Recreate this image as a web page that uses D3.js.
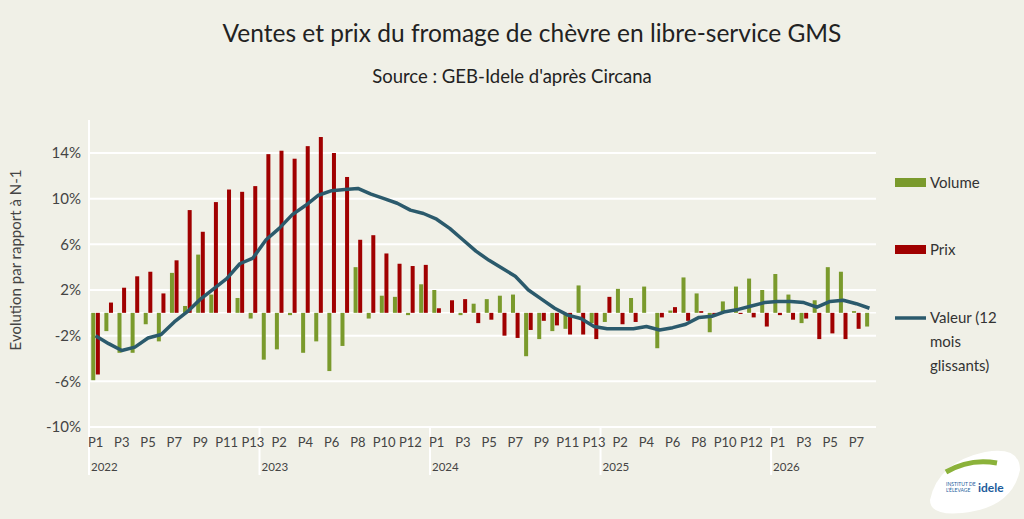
<!DOCTYPE html>
<html><head><meta charset="utf-8">
<script src="https://cdn.jsdelivr.net/npm/d3@7"></script>
<style>body{margin:0;background:#fff;font-family:Lato,"Open Sans",sans-serif}</style>
</head><body><svg id="c" width="1024" height="519"></svg>
<script>
// années et nombre de périodes
const years = ["2022", "2023", "2024", "2025", "2026"];
const periodsPerYear = [13, 13, 13, 13, 8];

// évolution des volumes (%)
const volume = [
  -5.9, -1.6, -3.5, -3.5, -1.0, -2.5, 3.5, 0.6, 5.1, 1.6, 0, 1.3, -0.5,
  -4.1, -3.2, -0.2, -3.5, -2.5, -5.1, -2.9, 4.0, -0.5, 1.5, 1.4, -0.2, 2.5,
  2.0, 0, -0.2, 0.8, 1.2, 1.5, 1.6, -3.8, -2.3, -1.6, -1.4, 2.4, -0.9,
  -0.8, 2.1, 1.3, 2.3, -3.1, 0.2, 3.1, 1.7, -1.7, 1.0, 2.3, 3.0, 2.0,
  3.4, 1.6, -0.9, 1.1, 4.0, 3.6, 0.15, -1.2
];
// évolution des prix (%)
const prix = [
  -5.4, 0.9, 2.2, 3.2, 3.6, 1.7, 4.6, 9.0, 7.1, 9.7, 10.8, 10.6, 11.1,
  13.9, 14.2, 13.5, 14.6, 15.4, 14.0, 11.9, 6.4, 6.8, 5.2, 4.3, 4.1, 4.2,
  0.4, 1.1, 1.2, -0.9, -0.6, -2.0, -2.2, -1.5, -0.7, -1.1, -1.9, -1.9, -2.3,
  1.4, -1.0, -0.8, 0, -0.4, 0.5, -0.7, 0.15, -0.2, 0, -0.1, -0.4, -1.2,
  -0.2, -0.6, -0.5, -2.3, -1.8, -2.3, -1.4, 0
];
// valeur en cumul 12 mois glissants (%)
const valeur = [
  -2.0, -2.7, -3.3, -3.0, -2.2, -1.9, -0.8, 0.1, 1.2, 2.1, 3.0, 4.3, 4.8,
  6.4, 7.4, 8.6, 9.4, 10.3, 10.7, 10.8, 10.9, 10.4, 10.0, 9.6, 9.0, 8.7,
  8.2, 7.4, 6.4, 5.4, 4.6, 3.9, 3.2, 2.0, 1.2, 0.4, -0.2, -0.5, -1.2,
  -1.4, -1.4, -1.4, -1.2, -1.5, -1.3, -1.0, -0.4, -0.3, 0.1, 0.3, 0.6, 0.9,
  1.0, 1.0, 0.9, 0.5, 1.0, 1.1, 0.8, 0.4
];
const yTicks = [-10, -6, -2, 2, 6, 10, 14];

// construction des périodes
const periods = [];
years.forEach((y, yi) => {
  for (let p = 1; p <= periodsPerYear[yi]; p++) periods.push({year: y, p: p});
});
periods.forEach((d, i) => { d.key = i; d.vol = volume[i]; d.prix = prix[i]; d.val = valeur[i]; });

const svg = d3.select("#c");
const L = 89, R = 876, T = 120, B = 428;

svg.append("rect").attr("x", 0).attr("y", 0).attr("width", 1024).attr("height", 519).attr("fill", "#f0f0e7");

svg.append("text").attr("x", 532).attr("y", 42).attr("text-anchor", "middle")
  .attr("font-size", 24.5).attr("fill", "#222").text("Ventes et prix du fromage de chèvre en libre-service GMS");
svg.append("text").attr("x", 512).attr("y", 83).attr("text-anchor", "middle")
  .attr("font-size", 18.5).attr("fill", "#222").text("Source : GEB-Idele d'après Circana");

const x = d3.scaleBand().domain(periods.map(d => d.key)).range([L, R]);
const y = d3.scaleLinear().domain([-10, 14]).range([427, 153]);

// grille
svg.append("g").selectAll("line").data(yTicks).join("line")
  .attr("x1", L).attr("x2", R).attr("y1", d => y(d)).attr("y2", d => y(d))
  .attr("stroke", "#fff").attr("stroke-width", 2);
svg.append("line").attr("x1", L).attr("x2", R).attr("y1", y(0)).attr("y2", y(0)).attr("stroke", "#fff").attr("stroke-width", 1.5);
svg.append("line").attr("x1", L).attr("x2", L).attr("y1", T).attr("y2", 475).attr("stroke", "#fff").attr("stroke-width", 2);

// axe y
const ya = svg.append("g").attr("transform", `translate(${L},0)`)
  .call(d3.axisLeft(y).tickValues(yTicks).tickFormat(d => d + "%").tickSize(0).tickPadding(8));
ya.select(".domain").remove();
ya.selectAll("text").attr("font-size", 15).attr("fill", "#444").attr("font-family", "Lato");

svg.append("text").attr("transform", "translate(21,260) rotate(-90)").attr("text-anchor", "middle")
  .attr("font-size", 15).attr("fill", "#444").text("Evolution par rapport à N-1");

// séparateurs d'années et libellés
let start = 0;
years.forEach((yr, yi) => {
  const x0 = x(start);
  if (yi > 0) svg.append("line").attr("x1", x0).attr("x2", x0).attr("y1", B).attr("y2", 475).attr("stroke", "#fff").attr("stroke-width", 2);
  svg.append("text").attr("x", x0 + 2).attr("y", 471).attr("font-size", 11.5).attr("fill", "#444").text(yr);
  start += periodsPerYear[yi];
});
svg.append("g").selectAll("text").data(periods.filter(d => d.key % 2 === 0)).join("text")
  .attr("x", d => x(d.key) + x.bandwidth() / 2).attr("y", 447).attr("text-anchor", "middle")
  .attr("font-size", 13).attr("fill", "#444").text(d => "P" + d.p);

// barres
const bw = 4;
const cx = d => x(d.key) + x.bandwidth() / 2;
svg.append("g").selectAll("rect").data(periods).join("rect")
  .attr("x", d => cx(d) - bw - 0.3).attr("width", bw)
  .attr("y", d => y(Math.max(0, d.vol))).attr("height", d => Math.abs(y(d.vol) - y(0)))
  .attr("fill", "#7a9a2c");
svg.append("g").selectAll("rect").data(periods).join("rect")
  .attr("x", d => cx(d) + 0.3).attr("width", bw)
  .attr("y", d => y(Math.max(0, d.prix))).attr("height", d => Math.abs(y(d.prix) - y(0)))
  .attr("fill", "#a00000");

// ligne
svg.append("path").datum(periods)
  .attr("d", d3.line().x(cx).y(d => y(d.val)))
  .attr("fill", "none").attr("stroke", "#2b5a6c").attr("stroke-width", 3.5).attr("stroke-linejoin", "round");

// légende
const lg = svg.append("g").attr("font-size", 15).attr("fill", "#333");
lg.append("rect").attr("x", 895).attr("y", 178).attr("width", 31).attr("height", 9).attr("fill", "#7a9a2c");
lg.append("text").attr("x", 930).attr("y", 188).text("Volume");
lg.append("rect").attr("x", 895).attr("y", 245).attr("width", 31).attr("height", 9).attr("fill", "#a00000");
lg.append("text").attr("x", 930).attr("y", 255).text("Prix");
lg.append("line").attr("x1", 895).attr("x2", 926).attr("y1", 318).attr("y2", 318).attr("stroke", "#2b5a6c").attr("stroke-width", 3.5);
lg.append("text").attr("x", 930).attr("y", 323).text("Valeur (12");
lg.append("text").attr("x", 930).attr("y", 347).text("mois");
lg.append("text").attr("x", 930).attr("y", 371).text("glissants)");

// logo
const lo = svg.append("g");
lo.append("path").attr("d", "M930,500 Q938,462 985,452 Q1020,446 1020,470 Q1012,508 962,513 Q930,516 930,500Z").attr("fill", "#fff");
lo.append("path").attr("d", "M946,472 Q970,458 997,463").attr("fill", "none").attr("stroke", "#8bb23a").attr("stroke-width", 5);
lo.append("text").attr("x", 978).attr("y", 492).attr("font-size", 12).attr("font-weight", "bold").attr("fill", "#1d5c9b").text("idele");
lo.append("text").attr("x", 946).attr("y", 486).attr("font-size", 5).attr("fill", "#1d5c9b").text("INSTITUT DE");
lo.append("text").attr("x", 946).attr("y", 492).attr("font-size", 5).attr("fill", "#1d5c9b").text("L'ÉLEVAGE");
</script></body></html>
